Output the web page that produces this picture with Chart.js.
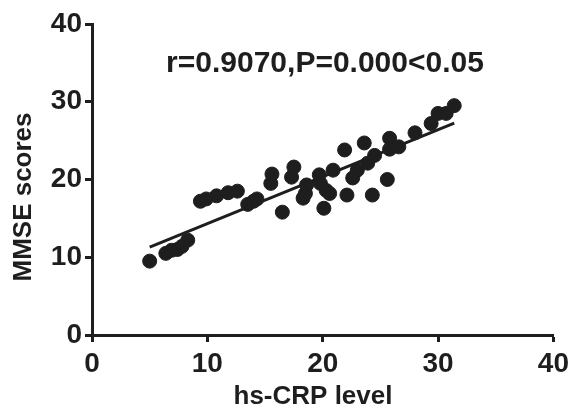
<!DOCTYPE html>
<html>
<head>
<meta charset="utf-8">
<script src="https://cdn.jsdelivr.net/npm/chart.js@4/dist/chart.umd.min.js"></script>
<style>
  html, body { margin: 0; padding: 0; background: #fff; }
  canvas { display: block; }
</style>
</head>
<body>
<canvas id="scatterChart" width="574" height="412"></canvas>
<script>
// hs-CRP level (x) vs MMSE scores (y)
const crpLevels = [5.0, 6.4, 6.9, 7.4, 7.8, 8.3, 9.4, 9.9, 10.8, 11.8, 12.6, 13.5, 14.0, 14.3,
    15.5, 15.6, 16.5, 17.3, 17.5, 18.3, 18.5, 18.6, 19.7, 19.8, 20.1, 20.3, 20.6, 20.9,
    21.9, 22.1, 22.6, 23.0, 23.6, 23.9, 24.3, 24.5, 25.6, 25.8, 25.8, 26.6, 28.0, 29.4,
    30.0, 30.7, 31.4];
const mmseScores = [9.5, 10.5, 10.9, 11.0, 11.4, 12.2, 17.2, 17.5, 17.9, 18.3, 18.5, 16.8, 17.2, 17.5,
    19.5, 20.7, 15.8, 20.3, 21.6, 17.6, 18.2, 19.3, 20.6, 19.5, 16.3, 18.6, 18.2, 21.2,
    23.8, 18.0, 20.2, 21.2, 24.7, 22.1, 18.0, 23.1, 20.0, 25.3, 23.9, 24.2, 26.0, 27.2,
    28.5, 28.5, 29.5];
const xTicks = [0, 10, 20, 30, 40];
const yTicks = [0, 10, 20, 30, 40];
const statText = 'r=0.9070,P=0.000<0.05';
const xTitle = 'hs-CRP level';
const yTitle = 'MMSE scores';

document.addEventListener('DOMContentLoaded', () => {
    const points = crpLevels.map((x, i) => ({ x: x, y: mmseScores[i] }));

    // least squares fit for the trend line
    const n = points.length;
    const mx = crpLevels.reduce((a, b) => a + b, 0) / n;
    const my = mmseScores.reduce((a, b) => a + b, 0) / n;
    let sxy = 0, sxx = 0;
    points.forEach(p => { sxy += (p.x - mx) * (p.y - my); sxx += (p.x - mx) ** 2; });
    const slope = sxy / sxx;
    const icpt = my - slope * mx;
    const x0 = Math.min(...crpLevels), x1 = Math.max(...crpLevels);
    const fitLine = [{ x: x0, y: icpt + slope * x0 }, { x: x1, y: icpt + slope * x1 }];

    const ink = '#1e1e1e';
    const font = "'Liberation Sans', Arial, sans-serif";

    const textPlugin = {
        id: 'texts',
        afterDraw(chart) {
            const c = chart.ctx;
            c.save();
            c.fillStyle = ink;
            c.textAlign = 'center';
            c.textBaseline = 'middle';
            c.font = 'bold 30px ' + font;
            c.fillText(statText, 325, 64);
            c.font = 'bold 26px ' + font;
            c.fillText(xTitle, 313, 397);
            c.translate(24, 197);
            c.rotate(-Math.PI / 2);
            c.fillText(yTitle, 0, 0);
            c.restore();
        }
    };

    const axisCommon = (ticks) => ({
        type: 'linear',
        min: 0,
        max: 40,
        afterBuildTicks: (s) => { s.ticks = ticks.map(v => ({ value: v })); },
        border: { display: true, color: ink, width: 3 },
        grid: { display: true, drawOnChartArea: false, drawTicks: true, tickLength: 7, tickWidth: 3, tickColor: ink },
        ticks: { color: ink, font: { family: font, size: 28, weight: 'bold' } }
    });

    const xAxis = axisCommon(xTicks);
    xAxis.afterFit = (s) => { s.height = 77; };
    xAxis.ticks.padding = 5;
    const yAxis = axisCommon(yTicks);
    yAxis.afterFit = (s) => { s.width = 92; };
    yAxis.ticks.padding = 3;

    new Chart(document.getElementById('scatterChart'), {
        type: 'scatter',
        data: {
            datasets: [
                {
                    label: 'fit',
                    type: 'line',
                    data: fitLine,
                    borderColor: ink,
                    borderWidth: 3,
                    pointRadius: 0,
                    fill: false
                },
                {
                    label: 'patients',
                    data: points,
                    backgroundColor: ink,
                    borderColor: ink,
                    pointRadius: 7,
                    pointHoverRadius: 7
                }
            ]
        },
        options: {
            responsive: false,
            animation: false,
            devicePixelRatio: 1,
            layout: { padding: { top: 24, right: 16, left: 0, bottom: 0 } },
            plugins: { legend: { display: false }, tooltip: { enabled: false } },
            scales: { x: xAxis, y: yAxis }
        },
        plugins: [textPlugin]
    });
});
</script>
</body>
</html>
